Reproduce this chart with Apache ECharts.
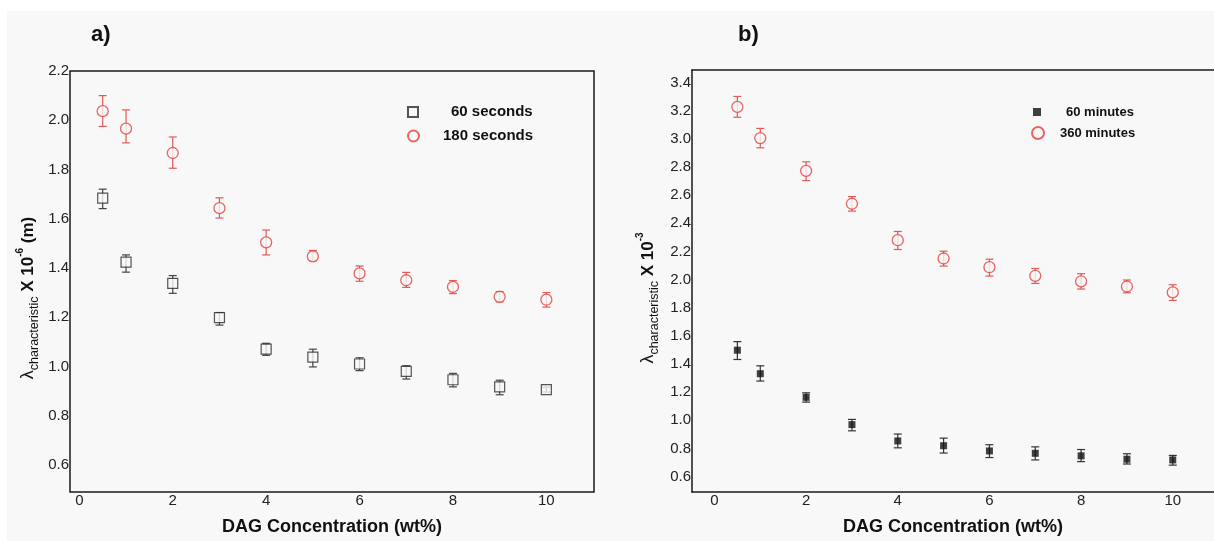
<!DOCTYPE html>
<html>
<head>
<meta charset="utf-8">
<script src="https://cdn.jsdelivr.net/npm/echarts@6/dist/echarts.min.js"></script>
<style>
  html, body { margin: 0; padding: 0; background: #ffffff; }
  #chart { width: 1214px; height: 541px; }
</style>
</head>
<body>
<div id="chart"></div>
<script>
// DAG concentration (wt%)
var conc = [0.5, 1, 2, 3, 4, 5, 6, 7, 8, 9, 10];

// panel a) - lambda x 10^-6 m
var sec60 = [1.684, 1.424, 1.337, 1.198, 1.070, 1.038, 1.010, 0.980, 0.946, 0.917, 0.906];
var sec60Hi = [1.720, 1.453, 1.369, 1.219, 1.094, 1.070, 1.035, 1.003, 0.972, 0.944, 0.916];
var sec60Lo = [1.641, 1.383, 1.297, 1.168, 1.045, 0.998, 0.983, 0.949, 0.917, 0.885, 0.896];
var sec180 = [2.037, 1.966, 1.867, 1.643, 1.504, 1.447, 1.378, 1.350, 1.323, 1.283, 1.271];
var sec180Hi = [2.100, 2.042, 1.932, 1.685, 1.554, 1.471, 1.408, 1.382, 1.349, 1.304, 1.300];
var sec180Lo = [1.975, 1.908, 1.805, 1.603, 1.453, 1.429, 1.346, 1.321, 1.296, 1.262, 1.241];

// panel b) - lambda x 10^-3
var min60 = [1.498, 1.331, 1.163, 0.969, 0.853, 0.819, 0.782, 0.765, 0.747, 0.723, 0.718];
var min60Hi = [1.559, 1.387, 1.195, 1.006, 0.902, 0.873, 0.826, 0.811, 0.792, 0.762, 0.750];
var min60Lo = [1.432, 1.279, 1.129, 0.925, 0.804, 0.767, 0.735, 0.718, 0.706, 0.689, 0.681];
var min360 = [3.228, 3.006, 2.773, 2.539, 2.280, 2.150, 2.088, 2.027, 1.988, 1.951, 1.909];
var min360Hi = [3.302, 3.075, 2.837, 2.590, 2.342, 2.202, 2.145, 2.079, 2.042, 1.997, 1.963];
var min360Lo = [3.154, 2.937, 2.704, 2.487, 2.214, 2.096, 2.025, 1.973, 1.933, 1.906, 1.852];

// tick labels
var xTicks = [0, 2, 4, 6, 8, 10];
var yTicksA = [0.6, 0.8, 1.0, 1.2, 1.4, 1.6, 1.8, 2.0, 2.2];
var yTicksB = [0.6, 0.8, 1.0, 1.2, 1.4, 1.6, 1.8, 2.0, 2.2, 2.4, 2.6, 2.8, 3.0, 3.2, 3.4];

var RED = '#e5403f';
var BLACK = '#2a2a2a';
var BG = '#f8f8f8';
var FRAME = '#1a1a1a';
var FONT = 'Liberation Sans, Arial, sans-serif';

function points(ys) {
    return conc.map(function (x, i) { return [x, ys[i]]; });
}
function bars(lo, hi) {
    return conc.map(function (x, i) { return [x, lo[i], hi[i]]; });
}

function errorBar(color) {
    return function (params, api) {
        var x = api.value(0);
        var lo = api.coord([x, api.value(1)]);
        var hi = api.coord([x, api.value(2)]);
        var w = 4;
        var st = { stroke: color, lineWidth: 1.2 };
        return {
            type: 'group',
            children: [
                { type: 'line', shape: { x1: hi[0], y1: hi[1], x2: lo[0], y2: lo[1] }, style: st },
                { type: 'line', shape: { x1: hi[0] - w, y1: hi[1], x2: hi[0] + w, y2: hi[1] }, style: st },
                { type: 'line', shape: { x1: lo[0] - w, y1: lo[1], x2: lo[0] + w, y2: lo[1] }, style: st }
            ]
        };
    };
}

var tickLabel = { fontFamily: FONT, fontSize: 15, color: '#222' };
var frameLine = { show: true, onZero: false, lineStyle: { color: FRAME, width: 1.5 } };

function xAxisFor(grid, min, max, line) {
    return {
        gridIndex: grid, type: 'value', min: min, max: max,
        name: 'DAG Concentration (wt%)', nameLocation: 'middle', nameGap: 26,
        nameTextStyle: { fontFamily: FONT, fontSize: 18, fontWeight: 'bold', color: '#111' },
        axisLine: line ? frameLine : { show: false }, axisTick: { show: false }, splitLine: { show: false },
        axisLabel: Object.assign({ margin: 1, customValues: xTicks, formatter: function (v) { return String(v); } }, tickLabel)
    };
}
function yAxisFor(grid, min, max, ticks, line) {
    return {
        gridIndex: grid, type: 'value', min: min, max: max,
        axisLine: line ? frameLine : { show: false }, axisTick: { show: false }, splitLine: { show: false },
        axisLabel: Object.assign({ margin: 1, customValues: ticks, formatter: function (v) { return v.toFixed(1); } }, tickLabel)
    };
}

function yTitle(x, y, exp, unit) {
    return {
        type: 'text', x: x, y: y, rotation: Math.PI / 2,
        style: {
            text: '{l|λ}{s|characteristic}{b| X 10}{p|' + exp + '}' + (unit ? '{b|' + unit + '}' : ''),
            align: 'center', verticalAlign: 'middle', fill: '#111',
            rich: {
                l: { fontFamily: FONT, fontSize: 18, lineHeight: 26, fill: '#111' },
                s: { fontFamily: FONT, fontSize: 12.5, lineHeight: 26, verticalAlign: 'bottom', fill: '#111' },
                b: { fontFamily: FONT, fontSize: 17, fontWeight: 'bold', lineHeight: 26, fill: '#111' },
                p: { fontFamily: FONT, fontSize: 10, fontWeight: 'bold', lineHeight: 26, verticalAlign: 'top', fill: '#111' }
            }
        }
    };
}

var dom = document.getElementById('chart');
var chart = echarts.init(dom, null, { renderer: 'canvas' });

var hollowRed = { color: BG, borderColor: RED, borderWidth: 1.3 };

var option = {
    animation: false,
    backgroundColor: '#ffffff',
    grid: [
        { left: 70, right: 620, top: 71, bottom: 49, show: true, borderColor: FRAME, borderWidth: 1.5, backgroundColor: 'transparent' },
        // panel b frame is open on the right: it runs past the picture edge
        { left: 692, right: 0, top: 70, bottom: 49, show: false }
    ],
    xAxis: [
        xAxisFor(0, -0.2, 11.02, false),
        xAxisFor(1, -0.49, 10.9, true),
        { gridIndex: 1, type: 'value', position: 'top', min: -0.49, max: 10.9, axisLine: frameLine,
          axisTick: { show: false }, axisLabel: { show: false }, splitLine: { show: false } }
    ],
    yAxis: [yAxisFor(0, 0.49, 2.2, yTicksA, false), yAxisFor(1, 0.49, 3.49, yTicksB, true)],
    legend: [
        { data: ['60 seconds'], left: 407, top: 104, padding: 0, itemWidth: 10, itemHeight: 10,
          textStyle: { fontFamily: FONT, fontSize: 15, fontWeight: 'bold', color: '#111', lineHeight: 16, padding: [0, 0, 0, 28] } },
        { data: ['180 seconds'], left: 407, top: 128, padding: 0, itemWidth: 11, itemHeight: 11,
          textStyle: { fontFamily: FONT, fontSize: 15, fontWeight: 'bold', color: '#111', lineHeight: 16, padding: [0, 0, 0, 19] } },
        { data: ['60 minutes'], left: 1033, top: 105, padding: 0, itemWidth: 8, itemHeight: 8,
          textStyle: { fontFamily: FONT, fontSize: 13, fontWeight: 'bold', color: '#111', lineHeight: 14, padding: [0, 0, 0, 20] } },
        { data: ['360 minutes'], left: 1031, top: 126, padding: 0, itemWidth: 12, itemHeight: 12,
          textStyle: { fontFamily: FONT, fontSize: 13, fontWeight: 'bold', color: '#111', lineHeight: 14, padding: [0, 0, 0, 11] } }
    ],
    graphic: [
        { type: 'rect', z: -10, silent: true, shape: { x: 7, y: 11, width: 1207, height: 530 }, style: { fill: BG } },
        { type: 'text', x: 91, y: 24, style: { text: 'a)', fontFamily: FONT, fontSize: 22, fontWeight: 'bold', fill: '#111' } },
        { type: 'text', x: 738, y: 24, style: { text: 'b)', fontFamily: FONT, fontSize: 22, fontWeight: 'bold', fill: '#111' } },
        yTitle(28, 298, '-6', ' (m)'),
        yTitle(648, 298, '-3', '')
    ],
    series: [
        { type: 'custom', name: 'err60s', xAxisIndex: 0, yAxisIndex: 0, z: 1, renderItem: errorBar('#444'),
          encode: { x: 0, y: [1, 2] }, data: bars(sec60Lo, sec60Hi) },
        { type: 'custom', name: 'err180s', xAxisIndex: 0, yAxisIndex: 0, z: 1, renderItem: errorBar('#e05a58'),
          encode: { x: 0, y: [1, 2] }, data: bars(sec180Lo, sec180Hi) },
        { type: 'scatter', name: '60 seconds', xAxisIndex: 0, yAxisIndex: 0, z: 3, symbol: 'rect', symbolSize: 10,
          itemStyle: { color: BG, borderColor: BLACK, borderWidth: 1.2 }, data: points(sec60) },
        { type: 'scatter', name: '180 seconds', xAxisIndex: 0, yAxisIndex: 0, z: 3, symbol: 'circle', symbolSize: 11,
          itemStyle: hollowRed, data: points(sec180) },

        { type: 'custom', name: 'err60m', xAxisIndex: 1, yAxisIndex: 1, z: 1, renderItem: errorBar('#333'),
          encode: { x: 0, y: [1, 2] }, data: bars(min60Lo, min60Hi) },
        { type: 'custom', name: 'err360m', xAxisIndex: 1, yAxisIndex: 1, z: 1, renderItem: errorBar('#e05a58'),
          encode: { x: 0, y: [1, 2] }, data: bars(min360Lo, min360Hi) },
        { type: 'scatter', name: '60 minutes', xAxisIndex: 1, yAxisIndex: 1, z: 3, symbol: 'rect', symbolSize: 7,
          itemStyle: { color: '#111' }, data: points(min60) },
        { type: 'scatter', name: '360 minutes', xAxisIndex: 1, yAxisIndex: 1, z: 3, symbol: 'circle', symbolSize: 11,
          itemStyle: hollowRed, data: points(min360) }
    ]
};

chart.setOption(option);
</script>
</body>
</html>
